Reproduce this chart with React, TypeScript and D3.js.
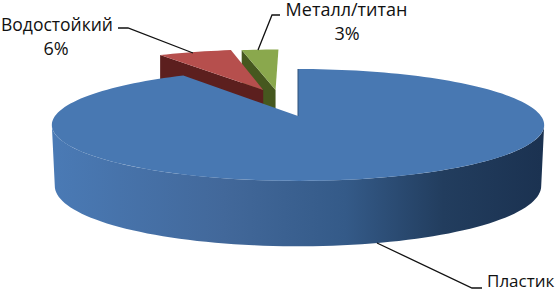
import React from "react";
import * as d3 from "d3";

const categories = ["Пластик", "Водостойкий", "Металл/титан"];
const shares = [91, 6, 3];
const percentLabels = ["", "6%", "3%"];

const topColors = ["#4878b2", "#b64f4d", "#8aa84d"];
const sideColors = ["url(#blueSide)", "#5c1f1e", "#46581f"];

const width = 556;
const height = 290;
const apexX = 298;
const apexY = 116;
const persp = 0.16; // how much the far edge shrinks
const radiusX = 243;
const radiusY = 54.5;

// pulled-out slices, in units of the pie radius (right, away from viewer)
const shifts = [
	[0, 0],
	[-0.155, 0.517],
	[-0.1, 0.517],
];

const project = (u: number, v: number) => {
	const s = 1 / (1 + persp * v);
	return [apexX + radiusX * u * s, apexY - radiusY * v * s];
};

const wallDepth = (v: number) => 60 * (1 - 0.09 * v);

const line = d3.line().curve(d3.curveLinearClosed);

const arcPoints = (a0: number, a1: number, shift: number[], bottom = false) => {
	const n = Math.max(2, Math.ceil((Math.abs(a1 - a0) / Math.PI) * 90));
	return d3.range(n + 1).map((i) => {
		const a = a0 + ((a1 - a0) * i) / n;
		const u = Math.sin(a) + shift[0];
		const v = Math.cos(a) + shift[1];
		const [x, y] = project(u, v);
		// the lower rim sits a little narrower than the upper one
		return bottom ? [apexX + (x - apexX) * 0.988, y + wallDepth(v)] : [x, y];
	});
};

const App = () => {
	const arcs = d3
		.pie<number>()
		.sort(null)
		.startAngle(0)
		.endAngle(2 * Math.PI)(shares);

	const leftTangent = (3 * Math.PI) / 2 - Math.asin(persp);
	const rightTangent = Math.PI / 2 + Math.asin(persp);

	const order = [2, 1, 0];

	return (
		<svg
			width={width}
			height={height}
			style={{ position: "fixed", left: 0, top: 0, background: "#fff" }}
			fontFamily="'Open Sans', sans-serif"
			fontSize={18}
			fill="#111"
		>
			<defs>
				<linearGradient id="blueSide" gradientUnits="userSpaceOnUse" x1={53} x2={541} y1={0} y2={0}>
					<stop offset="0" stopColor="#4a7ab5" />
					<stop offset="0.35" stopColor="#42689a" />
					<stop offset="0.6" stopColor="#345a88" />
					<stop offset="0.8" stopColor="#223d5e" />
					<stop offset="1" stopColor="#1b3251" />
				</linearGradient>
			</defs>
			{order.map((i) => {
				const d = arcs[i];
				const shift = shifts[i];
				const apex = project(shift[0], shift[1]);
				const top = arcPoints(d.startAngle, d.endAngle, shift);
				if (i === 0) {
					const wallTop = arcPoints(rightTangent, leftTangent, shift);
					const wallBottom = arcPoints(rightTangent, leftTangent, shift, true).reverse();
					return (
						<g key={categories[i]}>
							<path d={line([...wallTop, ...wallBottom] as [number, number][]) ?? ""} fill={sideColors[i]} />
							<path d={line([apex, ...top] as [number, number][]) ?? ""} fill={topColors[i]} />
							<path d={`M${apex[0]},${apex[1]}L${top[0][0]},${top[0][1]}`} stroke="#2f5079" strokeWidth={1} />
						</g>
					);
				}
				// the cut wall on the left side of the slice faces the viewer
				const outer = top[0];
				const apexLow = [apex[0], apex[1] + wallDepth(shift[1])];
				const outerLow = [outer[0], outer[1] + wallDepth(Math.cos(d.startAngle) + shift[1])];
				return (
					<g key={categories[i]}>
						<path d={line([outer, apex, apexLow, outerLow] as [number, number][]) ?? ""} fill={sideColors[i]} />
						<path d={line([apex, ...top] as [number, number][]) ?? ""} fill={topColors[i]} />
					</g>
				);
			})}
			<g fill="none" stroke="#111" strokeWidth={1.3}>
				<path d="M118,28H128L193,53" />
				<path d="M280,15H272L258,50" />
				<path d="M377,243L472,288H482" />
			</g>
			<text x={57} y={31} textAnchor="middle" fontSize={17.5}>{categories[1]}</text>
			<text x={56} y={55} textAnchor="middle">{percentLabels[1]}</text>
			<text x={346.5} y={16} textAnchor="middle">{categories[2]}</text>
			<text x={347} y={40} textAnchor="middle">{percentLabels[2]}</text>
			<text x={487} y={287} fontSize={17}>{categories[0]}</text>
		</svg>
	);
};

export default App;
